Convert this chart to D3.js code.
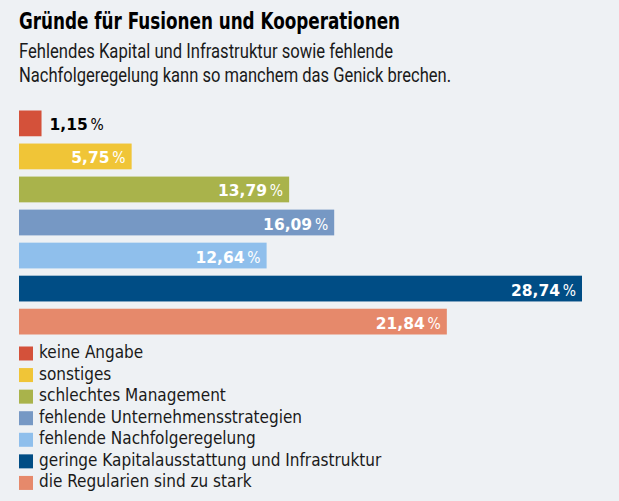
<!DOCTYPE html>
<html>
<head>
<meta charset="utf-8">
<script src="https://cdn.jsdelivr.net/npm/d3@7"></script>
<style>
  html, body { margin: 0; padding: 0; background: #eef1f4; }
  svg { display: block; }
</style>
</head>
<body>
<script>
// Gründe für Fusionen und Kooperationen - horizontal bars + legend
var categories = ["keine Angabe", "sonstiges", "schlechtes Management",
  "fehlende Unternehmensstrategien", "fehlende Nachfolgeregelung",
  "geringe Kapitalausstattung und Infrastruktur", "die Regularien sind zu stark"];
var values = [1.15, 5.75, 13.79, 16.09, 12.64, 28.74, 21.84];
var colors = ["#d4513a", "#f0c537", "#a9b34b", "#7698c4", "#8fbfec", "#004d85", "#e6896b"];

var width = 619, height = 501;

var svg = d3.select("body")
  .append("svg")
  .attr("width", width)
  .attr("height", height);

svg.append("rect")
  .attr("width", width)
  .attr("height", height)
  .attr("fill", "#eef1f4");

// title + subtitle (condensed fonts squeezed to the original widths)
svg.append("text")
  .attr("x", 19)
  .attr("y", 29)
  .attr("textLength", 381)
  .attr("lengthAdjust", "spacingAndGlyphs")
  .style("font-family", "'DejaVu Sans Condensed', sans-serif")
  .style("font-weight", "bold")
  .style("font-size", "23.5px")
  .style("fill", "#000")
  .text("Gründe für Fusionen und Kooperationen");

var sub = svg.append("text")
  .style("font-family", "Roboto, sans-serif")
  .style("font-size", "21px")
  .style("fill", "#1a1a1a");
sub.append("tspan").attr("x", 19).attr("y", 58)
  .attr("textLength", 374)
  .attr("lengthAdjust", "spacingAndGlyphs")
  .text("Fehlendes Kapital und Infrastruktur sowie fehlende");
sub.append("tspan").attr("x", 19).attr("y", 82)
  .attr("textLength", 432)
  .attr("lengthAdjust", "spacingAndGlyphs")
  .text("Nachfolgeregelung kann so manchem das Genick brechen.");

// scales
var x = d3.scaleLinear()
  .domain([0, 28.74])
  .range([19, 582]);

var y = d3.scaleBand()
  .domain(categories)
  .range([110.5, 334.5])
  .paddingInner(0.22)
  .paddingOuter(0);

var fmt = function(v){ return d3.format(".2f")(v).replace(".", ","); };
var inside = function(i){ return (x(values[i]) - x(0)) >= 60; };

var bars = svg.selectAll(".bar")
  .data(categories)
  .enter()
  .append("g")
  .attr("class", "bar");

bars.append("rect")
  .attr("x", x(0))
  .attr("y", function(d){ return y(d); })
  .attr("width", function(d, i){ return x(values[i]) - x(0); })
  .attr("height", y.bandwidth())
  .attr("fill", function(d, i){ return colors[i]; });

var labels = bars.append("text")
  .attr("x", function(d, i){ return inside(i) ? x(values[i]) - 6 : x(values[i]) + 8; })
  .attr("y", function(d){ return y(d) + y.bandwidth() / 2 + 7; })
  .attr("text-anchor", function(d, i){ return inside(i) ? "end" : "start"; })
  .style("font-family", "'DejaVu Sans', sans-serif")
  .style("font-size", "15.5px")
  .style("fill", function(d, i){ return inside(i) ? "#fff" : "#000"; });

labels.append("tspan")
  .style("font-weight", "bold")
  .text(function(d, i){ return fmt(values[i]); });
labels.append("tspan")
  .style("font-family", "'DejaVu Sans Condensed', sans-serif")
  .text("\u2009%");

// legend
var ly = d3.scaleBand()
  .domain(categories)
  .range([343, 494])
  .paddingInner(0);

var legend = svg.selectAll(".legend")
  .data(categories)
  .enter()
  .append("g")
  .attr("class", "legend");

legend.append("rect")
  .attr("x", 19)
  .attr("y", function(d){ return ly(d) + 3.5; })
  .attr("width", 14)
  .attr("height", 14)
  .attr("fill", function(d, i){ return colors[i]; });

legend.append("text")
  .attr("x", 39)
  .attr("y", function(d){ return ly(d) + 15; })
  .style("font-family", "'DejaVu Sans Condensed', sans-serif")
  .style("font-size", "17px")
  .style("fill", "#1a1a1a")
  .text(function(d){ return d; });
</script>
</body>
</html>
